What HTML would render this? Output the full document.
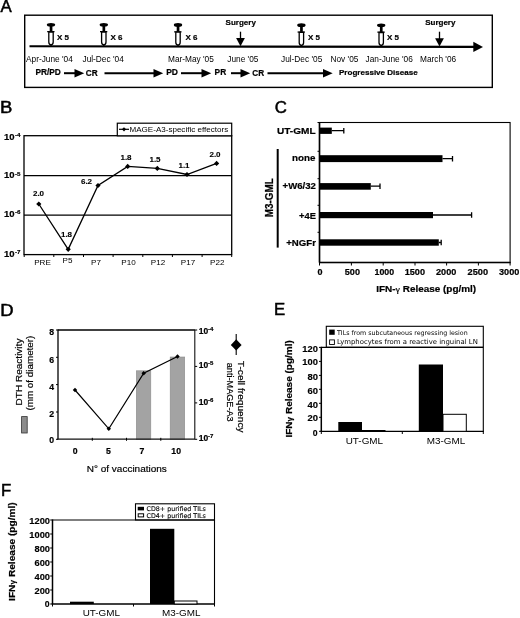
<!DOCTYPE html>
<html><head><meta charset="utf-8">
<style>
html,body{margin:0;padding:0;background:#fff;}
svg{display:block;will-change:transform;}
text{font-family:"Liberation Sans",sans-serif;fill:#000;}
.b{font-weight:bold;stroke:#000;stroke-width:0.2px;}
.lbl{font-weight:normal;font-size:16.8px;stroke:#000;stroke-width:0.5px;}
.dv{font-family:"DejaVu Sans","Liberation Sans",sans-serif;}
</style></head><body>
<svg width="520" height="618" viewBox="0 0 520 618">
<rect width="520" height="618" fill="#fff"/>
<defs>
<g id="syr">
  <ellipse cx="0" cy="-21.2" rx="4.2" ry="1.9" fill="#000"/>
  <rect x="-1.3" y="-20.5" width="2.7" height="6" fill="#000"/>
  <rect x="-3.8" y="-15" width="7.3" height="1.3" fill="#000"/>
  <path d="M-2.2,-14 V-4 Q-2.2,-1.3 0,-1.1 Q2.2,-1.3 2.2,-4 V-14 Z" fill="#fff" stroke="#000" stroke-width="1.3" stroke-linejoin="round"/>
  <rect x="-0.6" y="-1.4" width="1.2" height="1.4" fill="#000"/>
</g>
<path id="dia" d="M0,-2.6 L2.6,0 L0,2.6 L-2.6,0 Z" fill="#000"/>
</defs>

<!-- ================= PANEL A ================= -->
<g id="A">
<text x="0.6" y="12.4" class="lbl">A</text>
<rect x="24.7" y="15.2" width="467.6" height="72.2" fill="none" stroke="#000" stroke-width="1.4"/>
<line x1="29.5" y1="46.3" x2="476" y2="46.9" stroke="#000" stroke-width="2.1"/>
<path d="M473.3,41.8 L483,46.9 L473.3,52 Z" fill="#000"/>
<use href="#syr" x="51" y="46"/>
<use href="#syr" x="103.8" y="46"/>
<use href="#syr" x="178" y="46.2"/>
<use href="#syr" x="301.4" y="46.4"/>
<use href="#syr" x="381.2" y="46.5"/>
<g class="b" font-size="8px">
<text x="57" y="40.4">X 5</text>
<text x="110.5" y="40.4">X 6</text>
<text x="185.5" y="40.3">X 6</text>
<text x="308" y="40.3">X 5</text>
<text x="387" y="40.3">X 5</text>
</g>
<g class="b" font-size="8px">
<text x="225.6" y="25.4">Surgery</text>
<text x="425.2" y="25.4">Surgery</text>
</g>
<!-- surgery arrows -->
<line x1="240.5" y1="31.7" x2="240.5" y2="40" stroke="#000" stroke-width="1.3"/>
<path d="M236.1,38.1 L244.9,38.1 L240.5,46.2 Z" fill="#000"/>
<line x1="439.5" y1="31.7" x2="439.5" y2="40" stroke="#000" stroke-width="1.3"/>
<path d="M435.1,38.3 L443.9,38.3 L439.5,46.5 Z" fill="#000"/>
<g font-size="8.3px" fill="#222">
<text x="26" y="61.7">Apr-June '04</text>
<text x="82.5" y="61.7">Jul-Dec '04</text>
<text x="168" y="61.7">Mar-May '05</text>
<text x="227.3" y="61.7">June '05</text>
<text x="281" y="61.7">Jul-Dec '05</text>
<text x="330.5" y="61.7">Nov '05</text>
<text x="365.5" y="61.7">Jan-June '06</text>
<text x="420" y="61.7">March '06</text>
</g>
<g class="b" font-size="7.9px">
<text x="35.5" y="75" font-size="8.3px">PR/PD</text>
<text x="85.8" y="75.9" font-size="8.2px">CR</text>
<text x="166.2" y="75" font-size="8.5px">PD</text>
<text x="214.6" y="75" font-size="8.3px">PR</text>
<text x="252.3" y="76.4" font-size="8.2px">CR</text>
<text x="339" y="74.8" font-size="8.05px">Progressive Disease</text>
</g>
<g stroke="#000" stroke-width="2">
<line x1="64" y1="73.2" x2="76" y2="73.2"/>
<line x1="104.5" y1="73.2" x2="155" y2="73.2"/>
<line x1="181" y1="73.2" x2="203" y2="73.2"/>
<line x1="231" y1="73.2" x2="242" y2="73.2"/>
<line x1="267.5" y1="73.2" x2="324.5" y2="73.2"/>
</g>
<g fill="#000">
<path d="M74.5,69 L84.2,73.2 L74.5,77.4 Z"/>
<path d="M153.5,69 L163.2,73.2 L153.5,77.4 Z"/>
<path d="M201.5,69 L211.2,73.2 L201.5,77.4 Z"/>
<path d="M240.5,69 L250.2,73.2 L240.5,77.4 Z"/>
<path d="M323,69 L332.7,73.2 L323,77.4 Z"/>
</g>
</g>

<!-- ================= PANEL B ================= -->
<g id="B">
<text class="lbl" transform="translate(0.1,113) scale(1.1,1)">B</text>
<rect x="24" y="135.7" width="207.7" height="118.9" fill="none" stroke="#000" stroke-width="1.3"/>
<line x1="24" y1="175.7" x2="231.7" y2="175.7" stroke="#000" stroke-width="1.3"/>
<line x1="24" y1="215.2" x2="231.7" y2="215.2" stroke="#000" stroke-width="1.3"/>
<g stroke="#000" stroke-width="1">
<line x1="24.2" y1="254.5" x2="24.2" y2="257"/>
<line x1="53.8" y1="254.5" x2="53.8" y2="257"/>
<line x1="83.5" y1="254.5" x2="83.5" y2="257"/>
<line x1="113.1" y1="254.5" x2="113.1" y2="257"/>
<line x1="142.8" y1="254.5" x2="142.8" y2="257"/>
<line x1="172.4" y1="254.5" x2="172.4" y2="257"/>
<line x1="202.1" y1="254.5" x2="202.1" y2="257"/>
<line x1="231.7" y1="254.5" x2="231.7" y2="257"/>
</g>
<!-- legend -->
<rect x="117.3" y="123.2" width="114.4" height="12.6" fill="#fff" stroke="#000" stroke-width="1.2"/>
<line x1="119" y1="129.3" x2="129" y2="129.3" stroke="#000" stroke-width="1.2"/>
<use href="#dia" x="124" y="129.3" transform="translate(124,129.3) scale(0.8) translate(-124,-129.3)"/>
<text x="129.5" y="132" font-size="8.05px">MAGE-A3-specific effectors</text>
<!-- y labels -->
<g class="b" font-size="9.2px">
<text x="4" y="139.6" textLength="10.6" lengthAdjust="spacingAndGlyphs">10</text><text x="15" y="136.8" font-size="6.2px">-4</text>
<text x="4" y="178.3" textLength="10.6" lengthAdjust="spacingAndGlyphs">10</text><text x="15" y="175.5" font-size="6.2px">-5</text>
<text x="4" y="216.8" textLength="10.6" lengthAdjust="spacingAndGlyphs">10</text><text x="15" y="214" font-size="6.2px">-6</text>
<text x="4" y="256.5" textLength="10.6" lengthAdjust="spacingAndGlyphs">10</text><text x="15" y="253.7" font-size="6.2px">-7</text>
</g>
<polyline points="38.8,204 68.2,249.3 98,185.5 127.7,166.4 157.3,168.4 187,174.5 216.6,163.4" fill="none" stroke="#000" stroke-width="1.3"/>
<use href="#dia" x="38.8" y="204"/>
<use href="#dia" x="68.2" y="249.3"/>
<use href="#dia" x="98" y="185.5"/>
<use href="#dia" x="127.7" y="166.4"/>
<use href="#dia" x="157.3" y="168.4"/>
<use href="#dia" x="187" y="174.5"/>
<use href="#dia" x="216.6" y="163.4"/>
<g class="b" font-size="8px" text-anchor="middle" style="stroke:#000;stroke-width:0.12px">
<text x="38.5" y="195.8">2.0</text>
<text x="66.5" y="237">1.8</text>
<text x="86.5" y="184">6.2</text>
<text x="126" y="160">1.8</text>
<text x="155" y="162">1.5</text>
<text x="184" y="168">1.1</text>
<text x="215" y="157">2.0</text>
</g>
<g font-size="8.1px" text-anchor="middle" fill="#222">
<text x="42.5" y="264.5">PRE</text>
<text x="67.5" y="263.4">P5</text>
<text x="96" y="264.5">P7</text>
<text x="128.5" y="264.5">P10</text>
<text x="158" y="264.5">P12</text>
<text x="188" y="264.5">P17</text>
<text x="217.3" y="264.5">P22</text>
</g>
</g>

<!-- ================= PANEL C ================= -->
<g id="C">
<text x="274.7" y="112.8" class="lbl">C</text>
<rect x="319.5" y="122.5" width="190.6" height="140" fill="none" stroke="#000" stroke-width="1.1"/>
<line x1="319.5" y1="122.5" x2="319.5" y2="262.5" stroke="#000" stroke-width="1.6"/>
<line x1="319" y1="262.5" x2="510.6" y2="262.5" stroke="#000" stroke-width="1.6"/>
<g stroke="#000" stroke-width="1">
<line x1="317.5" y1="122.5" x2="319.5" y2="122.5"/>
<line x1="317.5" y1="151.3" x2="319.5" y2="151.3"/>
<line x1="317.5" y1="178.7" x2="319.5" y2="178.7"/>
<line x1="317.5" y1="205.3" x2="319.5" y2="205.3"/>
<line x1="317.5" y1="232.3" x2="319.5" y2="232.3"/>
<line x1="319.5" y1="262.5" x2="319.5" y2="265.5"/>
<line x1="351.4" y1="262.5" x2="351.4" y2="265.5"/>
<line x1="383.2" y1="262.5" x2="383.2" y2="265.5"/>
<line x1="415" y1="262.5" x2="415" y2="265.5"/>
<line x1="446.6" y1="262.5" x2="446.6" y2="265.5"/>
<line x1="478.4" y1="262.5" x2="478.4" y2="265.5"/>
<line x1="510.1" y1="262.5" x2="510.1" y2="265.5"/>
</g>
<g fill="#000">
<rect x="319.5" y="127.6" width="12.3" height="6.3"/>
<rect x="319.5" y="155.2" width="123" height="6.9"/>
<rect x="319.5" y="183.1" width="51.3" height="6.6"/>
<rect x="319.5" y="212" width="113.5" height="6.2"/>
<rect x="319.5" y="239.3" width="119.3" height="6.4"/>
</g>
<g stroke="#000" stroke-width="1.3" fill="none">
<path d="M331.8,130.7 H343.8 M343.8,128 V133.4"/>
<path d="M442.5,158.7 H452.5 M452.5,156 V161.4"/>
<path d="M370.8,186.2 H380 M380,183.5 V188.9"/>
<path d="M433,215 H471.6 M471.6,212.3 V217.7"/>
<path d="M438.8,242.5 H441.2 M441.2,239.8 V245.2"/>
</g>
<g class="b" font-size="9.2px">
<text x="277" y="134.3" lengthAdjust="spacingAndGlyphs" textLength="38.6">UT-GML</text>
<text x="292" y="160.7" lengthAdjust="spacingAndGlyphs" textLength="23.4">none</text>
<text x="282.6" y="189.3" lengthAdjust="spacingAndGlyphs" textLength="33.3">+W6/32</text>
<text x="299.1" y="218.5" lengthAdjust="spacingAndGlyphs" textLength="16.8">+4E</text>
<text x="286.2" y="245.9" lengthAdjust="spacingAndGlyphs" textLength="29.7">+NGFr</text>
</g>
<line x1="277.7" y1="149" x2="277.7" y2="247.6" stroke="#000" stroke-width="2"/>
<text class="b" font-size="9.9px" textLength="39.2" lengthAdjust="spacingAndGlyphs" style="stroke:#000;stroke-width:0.2px" transform="translate(272.6,217.3) rotate(-90) scale(1,1.15)">M3-GML</text>
<g class="b" font-size="9px" lengthAdjust="spacingAndGlyphs">
<text x="317.4" y="274.8">0</text>
<text x="344.8" y="274.8" lengthAdjust="spacingAndGlyphs" textLength="15.2">500</text>
<text x="374.5" y="274.8" lengthAdjust="spacingAndGlyphs" textLength="19.6">1000</text>
<text x="404.7" y="274.8" lengthAdjust="spacingAndGlyphs" textLength="20.3">1500</text>
<text x="436" y="274.8" lengthAdjust="spacingAndGlyphs" textLength="20.3">2000</text>
<text x="467.6" y="274.8" lengthAdjust="spacingAndGlyphs" textLength="20.5">2500</text>
<text x="499" y="274.8" lengthAdjust="spacingAndGlyphs" textLength="20.3">3000</text>
</g>
<text class="b" font-size="9.1px" x="376.2" y="291.7" textLength="100" lengthAdjust="spacingAndGlyphs">IFN-<tspan font-family="'Liberation Serif','DejaVu Serif',serif" font-weight="normal">γ</tspan> Release (pg/ml)</text>
</g>

<!-- ================= PANEL D ================= -->
<g id="D">
<text class="lbl" transform="translate(0.2,315.6) scale(1.1,1)">D</text>
<!-- bars -->
<rect x="136.3" y="370.8" width="14.5" height="68.5" fill="#a3a3a3" stroke="#8a8a8a" stroke-width="0.6"/>
<rect x="170.2" y="357" width="14.5" height="82.3" fill="#a3a3a3" stroke="#8a8a8a" stroke-width="0.6"/>
<!-- axes -->
<line x1="58" y1="330" x2="195" y2="330" stroke="#000" stroke-width="1.3"/>
<line x1="58" y1="329.4" x2="58" y2="439.3" stroke="#000" stroke-width="1.3"/>
<line x1="57.3" y1="439.2" x2="195" y2="439.2" stroke="#111" stroke-width="1.2"/>
<line x1="194.8" y1="330" x2="194.8" y2="439.3" stroke="#111" stroke-width="1.1"/>
<g stroke="#000" stroke-width="1">
<line x1="56" y1="330" x2="58" y2="330"/>
<line x1="56" y1="357.3" x2="58" y2="357.3"/>
<line x1="56" y1="384.6" x2="58" y2="384.6"/>
<line x1="56" y1="412" x2="58" y2="412"/>
<line x1="56" y1="439.3" x2="58" y2="439.3"/>
<line x1="92.3" y1="437.8" x2="92.3" y2="440.8"/>
<line x1="126.5" y1="437.8" x2="126.5" y2="440.8"/>
<line x1="160.8" y1="437.8" x2="160.8" y2="440.8"/>
<line x1="195" y1="330" x2="197.2" y2="330"/>
<line x1="195" y1="366.4" x2="197.2" y2="366.4"/>
<line x1="195" y1="402.9" x2="197.2" y2="402.9"/>
<line x1="195" y1="439.3" x2="197.2" y2="439.3"/>
</g>
<polyline points="75,390 108.8,428.8 143.7,373.3 177.5,356.5" fill="none" stroke="#000" stroke-width="1.2"/>
<use href="#dia" transform="translate(75,390) scale(0.85)"/>
<use href="#dia" transform="translate(108.8,428.8) scale(0.85)"/>
<use href="#dia" transform="translate(143.7,373.3) scale(0.85)"/>
<use href="#dia" transform="translate(177.5,356.5) scale(0.85)"/>
<g class="b" font-size="8.7px" text-anchor="end">
<text x="54.2" y="334.8">8</text>
<text x="54.2" y="363.2">6</text>
<text x="54.2" y="389.7">4</text>
<text x="54.2" y="416.6">2</text>
<text x="54.2" y="443.2">0</text>
</g>
<g class="b" font-size="8.7px" text-anchor="middle">
<text x="75.2" y="453.6">0</text>
<text x="108.5" y="453.6">5</text>
<text x="141.8" y="453.6">7</text>
<text x="176.2" y="453.6">10</text>
</g>
<g class="b" font-size="8.5px">
<text x="198.8" y="333.8">10</text><text x="208" y="331" font-size="6px">-4</text>
<text x="198.8" y="368">10</text><text x="208" y="365.2" font-size="6px">-5</text>
<text x="198.8" y="404.8">10</text><text x="208" y="402" font-size="6px">-6</text>
<text x="198.8" y="440.8">10</text><text x="208" y="438" font-size="6px">-7</text>
</g>
<text style="stroke:#000;stroke-width:0.18px" font-size="9px" x="86.8" y="471.6" textLength="80" lengthAdjust="spacingAndGlyphs">N° of vaccinations</text>
<text style="stroke:#000;stroke-width:0.18px" font-size="8.7px" textLength="66.8" lengthAdjust="spacingAndGlyphs" transform="translate(21.7,405.4) rotate(-90)">DTH Reactivity</text>
<text style="stroke:#000;stroke-width:0.18px" font-size="8.7px" textLength="75" lengthAdjust="spacingAndGlyphs" transform="translate(33.4,410.6) rotate(-90)">(mm of diameter)</text>
<rect x="21.6" y="416.6" width="5.6" height="16.4" fill="#8c8c8c" stroke="#333" stroke-width="0.8"/>
<line x1="236.2" y1="334" x2="236.2" y2="355" stroke="#000" stroke-width="1.1"/>
<path d="M236.2,339.3 L241.6,344.9 L236.2,350.5 L230.8,344.9 Z" fill="#000"/>
<text style="stroke:#000;stroke-width:0.18px" font-size="8.9px" textLength="71.8" lengthAdjust="spacingAndGlyphs" transform="translate(237.8,360.8) rotate(90)">T-cell frequency</text>
<text style="stroke:#000;stroke-width:0.18px" font-size="8.9px" textLength="58.8" lengthAdjust="spacingAndGlyphs" transform="translate(226.9,362.8) rotate(90)">anti-MAGE-A3</text>
</g>

<!-- ================= PANEL E ================= -->
<g id="E">
<text x="274.1" y="315.4" class="lbl">E</text>
<rect x="326.3" y="326.3" width="157" height="21" fill="#fff" stroke="#000" stroke-width="1.1"/>
<rect x="329.2" y="329.6" width="5.5" height="5.2" fill="#000"/>
<rect x="329.6" y="339.9" width="4.8" height="4.6" fill="#fff" stroke="#000" stroke-width="0.9"/>
<text class="dv" font-size="6.4px" x="337" y="334.9" textLength="130.7" lengthAdjust="spacingAndGlyphs">TILs from subcutaneous regressing lesion</text>
<text class="dv" font-size="6.8px" x="337" y="344.2" textLength="140.8" lengthAdjust="spacingAndGlyphs">Lymphocytes from a reactive inguinal LN</text>
<line x1="321.3" y1="347.4" x2="483.3" y2="347.4" stroke="#000" stroke-width="1.1"/>
<line x1="483.3" y1="347.4" x2="483.3" y2="431.3" stroke="#000" stroke-width="1.1"/>
<line x1="321.3" y1="346.8" x2="321.3" y2="431.3" stroke="#000" stroke-width="1.5"/>
<line x1="320.5" y1="431.3" x2="483.9" y2="431.3" stroke="#000" stroke-width="1.3"/>
<g stroke="#000" stroke-width="1">
<line x1="319" y1="347.4" x2="321.3" y2="347.4"/>
<line x1="319" y1="361.4" x2="321.3" y2="361.4"/>
<line x1="319" y1="375.4" x2="321.3" y2="375.4"/>
<line x1="319" y1="389.3" x2="321.3" y2="389.3"/>
<line x1="319" y1="403.3" x2="321.3" y2="403.3"/>
<line x1="319" y1="417.3" x2="321.3" y2="417.3"/>
<line x1="319" y1="431.3" x2="321.3" y2="431.3"/>
<line x1="321.3" y1="431.3" x2="321.3" y2="434"/>
<line x1="402.3" y1="431.3" x2="402.3" y2="434"/>
<line x1="483.3" y1="431.3" x2="483.3" y2="434"/>
</g>
<rect x="338.3" y="422" width="23.7" height="9.3" fill="#000"/>
<rect x="362" y="430" width="23.5" height="1.3" fill="#000"/>
<rect x="418.8" y="364.5" width="24.2" height="66.8" fill="#000"/>
<rect x="443" y="414.3" width="23.3" height="17" fill="#fff" stroke="#000" stroke-width="1"/>
<g class="b" font-size="8.7px" style="stroke:#000;stroke-width:0.15px">
<text x="302.3" y="352.2" textLength="15.6" lengthAdjust="spacingAndGlyphs">120</text>
<text x="302.3" y="365" textLength="15.6" lengthAdjust="spacingAndGlyphs">100</text>
<text x="307.4" y="379.7" textLength="10.5" lengthAdjust="spacingAndGlyphs">80</text>
<text x="307.4" y="393.7" textLength="10.5" lengthAdjust="spacingAndGlyphs">60</text>
<text x="307.4" y="407.6" textLength="10.5" lengthAdjust="spacingAndGlyphs">40</text>
<text x="307.4" y="421" textLength="10.5" lengthAdjust="spacingAndGlyphs">20</text>
<text x="312.7" y="435.6">0</text>
</g>
<text font-size="9.9px" text-anchor="middle" x="364.4" y="444.2">UT-GML</text>
<text font-size="9.9px" text-anchor="middle" x="446" y="444.2">M3-GML</text>
<text class="b" font-size="9.2px" textLength="97.5" lengthAdjust="spacingAndGlyphs" transform="translate(292.4,437.6) rotate(-90)">IFN<tspan font-size="7.6px">γ</tspan> Release (pg/ml)</text>
</g>

<!-- ================= PANEL F ================= -->
<g id="F">
<text x="0.9" y="495.7" class="lbl">F</text>
<rect x="135.5" y="503.8" width="79" height="16.2" fill="#fff" stroke="#000" stroke-width="1.1"/>
<rect x="137.7" y="506.8" width="6.3" height="3.6" fill="#000"/>
<rect x="138.2" y="513.8" width="5.4" height="3.1" fill="#fff" stroke="#000" stroke-width="1"/>
<text class="dv" font-size="6.4px" x="146.6" y="510.8" textLength="59.3" lengthAdjust="spacingAndGlyphs" style="stroke:#000;stroke-width:0.12px">CD8+ purified TILs</text>
<text class="dv" font-size="6.4px" x="146.6" y="517.8" textLength="59.3" lengthAdjust="spacingAndGlyphs" style="stroke:#000;stroke-width:0.12px">CD4+ purified TILs</text>
<line x1="52.5" y1="520" x2="214.5" y2="520" stroke="#000" stroke-width="1.1"/>
<line x1="214.5" y1="520" x2="214.5" y2="604" stroke="#000" stroke-width="1.1"/>
<line x1="52.5" y1="519.4" x2="52.5" y2="604" stroke="#000" stroke-width="1.5"/>
<line x1="51.7" y1="604" x2="215" y2="604" stroke="#000" stroke-width="1.5"/>
<g stroke="#000" stroke-width="1">
<line x1="50.2" y1="520" x2="52.5" y2="520"/>
<line x1="50.2" y1="534" x2="52.5" y2="534"/>
<line x1="50.2" y1="548" x2="52.5" y2="548"/>
<line x1="50.2" y1="562" x2="52.5" y2="562"/>
<line x1="50.2" y1="576" x2="52.5" y2="576"/>
<line x1="50.2" y1="590" x2="52.5" y2="590"/>
<line x1="50.2" y1="604" x2="52.5" y2="604"/>
<line x1="52.5" y1="604" x2="52.5" y2="606.5"/>
<line x1="133.5" y1="604" x2="133.5" y2="606.5"/>
<line x1="214.5" y1="604" x2="214.5" y2="606.5"/>
</g>
<rect x="70" y="601.7" width="23.8" height="2.3" fill="#000"/>
<rect x="150" y="528.8" width="24.3" height="75.2" fill="#000"/>
<rect x="174.3" y="601" width="22.7" height="3" fill="#fff" stroke="#000" stroke-width="1"/>
<g class="b" font-size="8.7px" style="stroke:#000;stroke-width:0.15px">
<text x="29.3" y="524.2" textLength="20.7" lengthAdjust="spacingAndGlyphs">1200</text>
<text x="29.3" y="537.9" textLength="20.7" lengthAdjust="spacingAndGlyphs">1000</text>
<text x="34.5" y="551.8" textLength="15.5" lengthAdjust="spacingAndGlyphs">800</text>
<text x="34.5" y="566.1" textLength="15.5" lengthAdjust="spacingAndGlyphs">600</text>
<text x="34.5" y="579.9" textLength="15.5" lengthAdjust="spacingAndGlyphs">400</text>
<text x="34.5" y="594.2" textLength="15.5" lengthAdjust="spacingAndGlyphs">200</text>
<text x="44.7" y="607.4">0</text>
</g>
<text font-size="9.9px" text-anchor="middle" x="101.3" y="615.6">UT-GML</text>
<text font-size="9.9px" text-anchor="middle" x="181.3" y="615.6">M3-GML</text>
<text class="b" font-size="9.2px" textLength="98.6" lengthAdjust="spacingAndGlyphs" transform="translate(15,600.9) rotate(-90)">IFN<tspan font-size="7.6px">γ</tspan> Release (pg/ml)</text>
</g>
</svg>
</body></html>
